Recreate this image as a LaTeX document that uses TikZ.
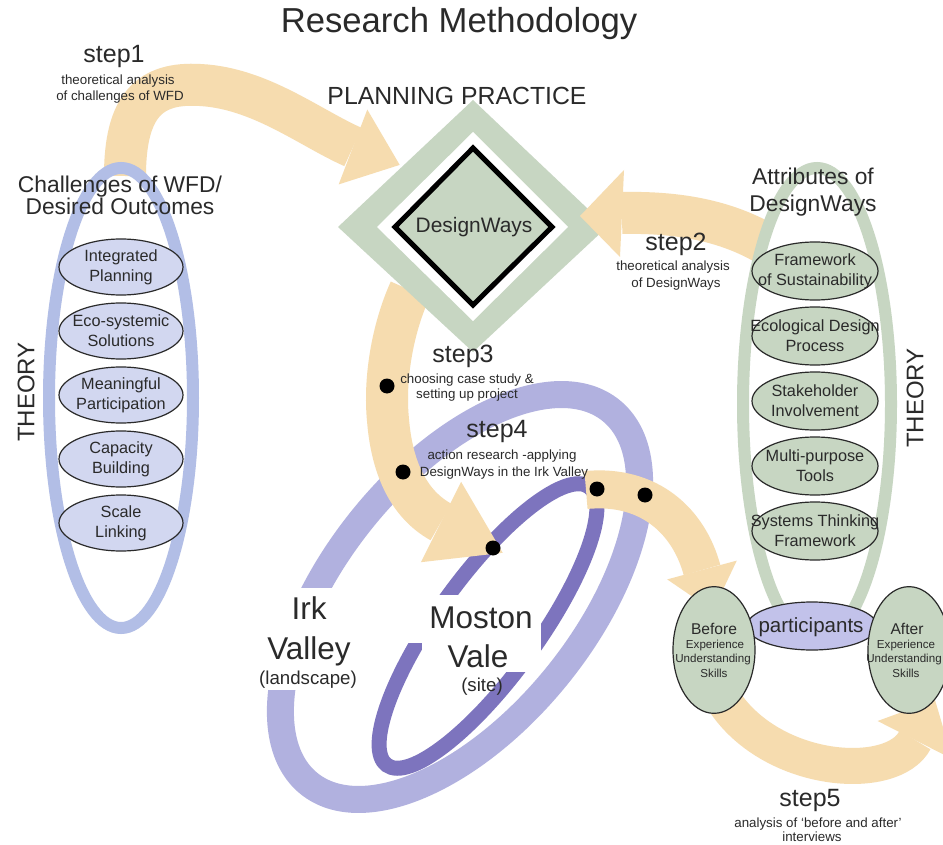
\documentclass[tikz,border=0pt]{standalone}
\usepackage{fontspec}
\setmainfont{Liberation Sans}
\usetikzlibrary{shapes.geometric}

\definecolor{wheat}{HTML}{F6DCAF}
\definecolor{sage}{HTML}{C7D6C2}
\definecolor{lilac}{HTML}{B1B1DF}
\definecolor{violetring}{HTML}{7D74BE}
\definecolor{periwinkle}{HTML}{B2BEE6}
\definecolor{paleblue}{HTML}{D2D7F0}
\definecolor{partfill}{HTML}{C2C2EA}
\definecolor{ink}{HTML}{2A2A2A}

\tikzset{
  every node/.style={text=ink, inner sep=0pt},
  titletxt/.style={font=\fontsize{26}{31}\selectfont},
  headtxt/.style={font=\fontsize{18.6}{22}\selectfont},
  subhead/.style={font=\fontsize{17.1}{20}\selectfont},
  steptxt/.style={font=\fontsize{18.75}{22}\selectfont},
  stepsub/.style={font=\fontsize{10}{12}\selectfont},
  pilltxt/.style={font=\fontsize{12.2}{15}\selectfont, align=center},
  theorytxt/.style={font=\fontsize{18}{21}\selectfont, rotate=90},
  placetxt/.style={font=\fontsize{23.6}{28}\selectfont},
  parentxt/.style={font=\fontsize{14}{17}\selectfont},
  parttxt/.style={font=\fontsize{15.4}{18}\selectfont},
  befbig/.style={font=\fontsize{11.7}{14}\selectfont},
  befsmall/.style={font=\fontsize{8.7}{10}\selectfont},
  dwtxt/.style={font=\fontsize{15.7}{19}\selectfont},
  bandwide/.style={draw=wheat, line width=31.5pt},
  bandmid/.style={draw=wheat, line width=27pt},
  bandthin/.style={draw=wheat, line width=28.5pt},
  pillL/.style={ellipse, draw=ink, line width=0.9pt, fill=paleblue,
    minimum width=93pt, minimum height=42pt},
  pillR/.style={ellipse, draw=ink, line width=0.9pt, fill=sage,
    minimum width=94.5pt, minimum height=43.5pt},
  egg/.style={ellipse, draw=ink, line width=0.9pt, fill=sage,
    minimum width=61.5pt, minimum height=95pt},
  dot/.style={fill=black},
}

\begin{document}
\begin{tikzpicture}[x=0.75pt,y=-0.75pt]
\useasboundingbox (0,0) rectangle (943,845);
\fill[white] (0,0) rectangle (943,845);

% ---- Irk Valley landscape ring and Moston Vale site ring
\draw[lilac, line width=20.25pt, rotate around={51:(460,597)}]
  (460,597) ellipse [x radius=240, y radius=125];
\draw[violetring, line width=11.25pt, rotate around={54:(488,626)}]
  (488,626) ellipse [x radius=172, y radius=50];
% white grounds behind the place names
\fill[white] (255,588) rectangle (366,690);
\fill[white] (405,595) rectangle (541,643);
\fill[white] (422,643) rectangle (541,672);

\node[placetxt, anchor=base] (irk) at (309,619) {Irk};
\node[placetxt, anchor=base] (valley) at (309,659) {Valley};
\node[parentxt, anchor=base] (landscape) at (308,684) {(landscape)};
\node[placetxt, anchor=base] (moston) at (481,628) {Moston};
\node[placetxt, anchor=base] (vale) at (478,667) {Vale};
\node[parentxt, anchor=base] (site) at (482,691) {(site)};

% ---- step arrows (wide bands with triangular heads)
% step 1
\coordinate (s1start) at (125,176);
\coordinate (s1base) at (353,147);
\draw[bandwide] (s1start) .. controls (125,105) and (150,82) .. (200,85)
  .. controls (260,88) and (310,128) .. (s1base);
\fill[wheat] (367.3,109.6) -- (399.7,164.9) -- (338.7,184.4) -- cycle;

% step 3
\coordinate (s3start) at (410,290);
\coordinate (s3base) at (441,522);
\draw[bandwide] (s3start) .. controls (392,330) and (384,380) .. (388,420)
  .. controls (392,470) and (410,505) .. (s3base);
\fill[wheat] (461.1,481.8) -- (502.7,552.8) -- (420.9,562.2) -- cycle;

% step 4
\coordinate (s4start) at (586,490);
\coordinate (s4base) at (702,570);
\draw[bandthin] (s4start) .. controls (650,484) and (689,522) .. (s4base);
\fill[wheat] (667.2,579.4) -- (712.9,610.6) -- (736.8,560.6) -- cycle;

% step 5
\coordinate (s5start) at (722,698);
\coordinate (s5base) at (915,740);
\draw[bandmid] (s5start) .. controls (770,775) and (893,783) .. (s5base);
\fill[wheat] (877.6,721) -- (935,700) -- (952.4,759) -- cycle;

% ---- planning practice diamond
\coordinate (dc) at (473,227);
\fill[sage] (338,227) -- (473,100) -- (607,227) -- (473,352) -- cycle;
\fill[white] (377,227) -- (473,132) -- (568,227) -- (473,321) -- cycle;
\filldraw[fill=sage, draw=black, line width=3.75pt, line join=miter]
  (395,227) -- (473,148) -- (552,227) -- (473,305) -- cycle;
\node[dwtxt, anchor=base] (dw) at (474,233) {DesignWays};

% step 2 (drawn over the diamond)
\coordinate (s2start) at (764,243);
\coordinate (s2base) at (622,213);
\draw[bandwide] (s2start) .. controls (720,218) and (670,212) .. (s2base);
\fill[wheat] (624,170) -- (580,216) -- (620,257) -- cycle;

% ---- theory frames
\draw[periwinkle, line width=9pt] (121,398) ellipse [x radius=72, y radius=230];
\draw[sage, line width=9pt] (817,404) ellipse [x radius=74, y radius=236];

% challenges of WFD
\node[pillL] (ip) at (121,267) {};
\node[pillL] (es) at (121,331) {};
\node[pillL] (mp) at (121,395) {};
\node[pillL] (cb) at (121,459) {};
\node[pillL] (sl) at (121,523) {};
\node[pilltxt] (ipt) at (ip) {Integrated\\Planning};
\node[pilltxt] (est) at (es) {Eco-systemic\\Solutions};
\node[pilltxt] (mpt) at (mp) {Meaningful\\Participation};
\node[pilltxt] (cbt) at (cb) {Capacity\\Building};
\node[pilltxt] (slt) at (sl) {Scale\\Linking};

% attributes of DesignWays
\node[pillR] (fs) at (815,271) {};
\node[pillR] (ed) at (815,336) {};
\node[pillR] (si) at (815,401) {};
\node[pillR] (mt) at (815,466) {};
\node[pillR] (st) at (815,531) {};
\node[pilltxt] (fst) at (fs) {Framework\\of Sustainability};
\node[pilltxt] (edt) at (ed) {Ecological Design\\Process};
\node[pilltxt] (sit) at (si) {Stakeholder\\Involvement};
\node[pilltxt] (mtt) at (mt) {Multi-purpose\\Tools};
\node[pilltxt] (stt) at (st) {Systems Thinking\\Framework};

% ---- participants before and after
\node[ellipse, draw=ink, line width=0.9pt, fill=partfill,
  minimum width=97.5pt, minimum height=36pt] (part) at (812,626) {};
\node[parttxt, anchor=base] (partt) at (811,632) {participants};
\node[egg] (before) at (714,650) {};
\node[egg] (after) at (909,650) {};
\node[befbig, anchor=base] (b1) at (714,634) {Before};
\node[befsmall, anchor=base] (b2) at (715,648) {Experience};
\node[befsmall, anchor=base] (b3) at (713,662) {Understanding};
\node[befsmall, anchor=base] (b4) at (714,677) {Skills};
\node[befbig, anchor=base] (a1) at (907,634) {After};
\node[befsmall, anchor=base] (a2) at (906,648) {Experience};
\node[befsmall, anchor=base] (a3) at (904,662) {Understanding};
\node[befsmall, anchor=base] (a4) at (906,677) {Skills};

% ---- milestone dots
\fill[dot] (387,386) circle [radius=7.5];
\fill[dot] (403,472) circle [radius=7.5];
\fill[dot] (493,548) circle [radius=7.5];
\fill[dot] (597,489) circle [radius=7.5];
\fill[dot] (645,495) circle [radius=7.5];

% ---- headings
\node[titletxt, anchor=base] (title) at (459,33) {Research Methodology};
\node[headtxt, anchor=base] (pp) at (457,105) {PLANNING PRACTICE};
\node[subhead, anchor=base] (ch1) at (120,193) {Challenges of WFD/};
\node[subhead, anchor=base] (ch2) at (120,215) {Desired Outcomes};
\node[subhead, anchor=base] (at1) at (813,185) {Attributes of};
\node[subhead, anchor=base] (at2) at (813,212) {DesignWays};
\node[theorytxt] (thl) at (26,392) {THEORY};
\node[theorytxt] (thr) at (915,398) {THEORY};

% ---- step labels
\node[steptxt, anchor=base] (st1) at (114,63) {step1};
\node[stepsub, anchor=base] (st1a) at (118,85) {theoretical analysis};
\node[stepsub, anchor=base] (st1b) at (120,101) {of challenges of WFD};

\node[steptxt, anchor=base] (st2) at (676,251) {step2};
\node[stepsub, anchor=base] (st2a) at (673,271) {theoretical analysis};
\node[stepsub, anchor=base] (st2b) at (676,287) {of DesignWays};

\node[steptxt, anchor=base] (st3) at (463,362) {step3};
\node[stepsub, anchor=base] (st3a) at (467,383) {choosing case study \&};
\node[stepsub, anchor=base] (st3b) at (467,398) {setting up project};

\node[steptxt, anchor=base] (st4) at (497,437) {step4};
\node[stepsub, anchor=base] (st4a) at (502,459) {action research -applying};
\node[stepsub, anchor=base] (st4b) at (504,476) {DesignWays in the Irk Valley};

\node[steptxt, anchor=base] (st5) at (810,806) {step5};
\node[stepsub, anchor=base] (st5a) at (818,827) {analysis of `before and after'};
\node[stepsub, anchor=base] (st5b) at (812,841) {interviews};
\end{tikzpicture}
\end{document}
